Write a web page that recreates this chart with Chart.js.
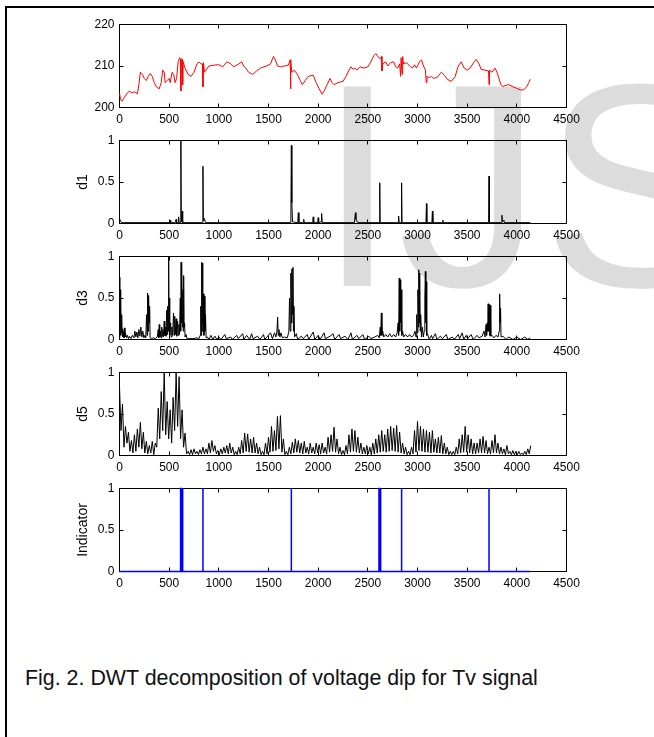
<!DOCTYPE html>
<html><head><meta charset="utf-8">
<script src="https://cdn.jsdelivr.net/npm/chart.js@4.4.1/dist/chart.umd.min.js"></script>
<style>
html,body{margin:0;padding:0;background:#fff;}
body{width:654px;height:737px;position:relative;overflow:hidden;font-family:"Liberation Sans",Arial,sans-serif;}
#wm{position:absolute;left:317px;top:39.5px;font-size:290px;line-height:1;color:#dcdcdc;white-space:nowrap;z-index:0;}
canvas{position:absolute;left:0;z-index:1;}
#bt{position:absolute;left:5px;top:6px;width:649px;height:2px;background:#000;z-index:2}
#bl{position:absolute;left:5px;top:6px;width:2px;height:731px;background:#000;z-index:2}
#cap{position:absolute;left:25px;top:668px;font-size:21.4px;line-height:1;color:#111;z-index:2;white-space:nowrap}
</style></head>
<body>
<div id="wm">IJS</div>
<div id="bt"></div><div id="bl"></div>
<canvas id="c1" width="654" height="120"></canvas>
<canvas id="c2" width="654" height="120"></canvas>
<canvas id="c3" width="654" height="120"></canvas>
<canvas id="c4" width="654" height="120"></canvas>
<canvas id="c5" width="654" height="120"></canvas>
<div id="cap">Fig. 2. DWT decomposition of voltage dip for Tv signal</div>
<script>
// ---- data ----
const xTicks = [0,500,1000,1500,2000,2500,3000,3500,4000,4500];

const voltX = [0,10,25,50,80,100,120,150,180,195,
 210,230,250,270,290,310,330,350,370,400,
 420,435,450,460,480,500,510,530,545,560,
 575,590,605,614,618,622,632,636,640,660,
 690,720,750,780,800,820,835,840,845,855,
 870,900,950,1000,1040,1080,1120,1150,1200,1230,
 1250,1270,1300,1340,1380,1420,1480,1520,1550,1570,
 1590,1620,1660,1700,1718,1722,1726,1735,1760,1790,
 1820,1840,1870,1900,1950,1980,2010,2040,2060,2090,
 2120,2140,2160,2200,2250,2280,2310,2330,2350,2370,
 2390,2420,2460,2500,2530,2560,2580,2610,2630,2638,
 2642,2650,2680,2700,2730,2760,2780,2800,2820,2830,
 2835,2845,2850,2860,2890,2920,2950,2970,2990,3020,
 3040,3060,3080,3088,3095,3120,3140,3160,3200,3240,
 3270,3300,3340,3380,3410,3440,3470,3500,3530,3570,
 3590,3620,3640,3680,3715,3720,3725,3750,3780,3800,
 3820,3840,3860,3880,3920,3960,4000,4040,4070,4100,
 4120,4135];
const voltY = [203.5,202.0,201.5,202.5,203.5,204.0,203.5,203.8,203.3,205.5,
 208.5,208.0,207.0,206.5,207.5,208.2,207.5,206.0,205.0,204.5,
 206.0,209.0,208.5,206.0,206.5,207.0,206.0,208.5,208.0,206.0,
 207.0,211.0,212.0,211.5,204.0,211.8,211.5,205.5,211.0,209.5,
 208.0,207.5,208.5,210.5,211.0,210.5,210.5,205.0,210.8,208.5,
 209.0,210.0,210.2,210.3,209.8,211.0,210.5,209.8,210.5,211.0,
 210.0,209.5,208.5,208.0,208.8,209.5,210.0,210.5,212.3,211.5,
 210.0,209.8,210.0,210.2,211.5,204.5,211.0,208.5,209.0,208.0,
 206.5,205.5,206.5,207.5,207.8,206.0,204.5,203.2,204.0,205.5,
 207.0,206.0,205.5,206.0,206.3,207.5,209.0,209.8,209.2,209.5,
 209.0,209.8,209.5,209.8,211.0,212.5,213.0,212.0,211.8,212.3,
 208.8,210.5,211.0,210.0,210.8,211.0,209.8,209.5,210.5,207.5,
 212.0,208.0,212.3,210.5,210.8,210.0,209.5,210.3,209.5,211.0,
 211.5,210.0,209.0,206.0,207.5,207.2,207.5,207.0,207.3,208.5,
 207.8,206.8,206.3,207.5,210.0,211.0,209.5,209.0,209.5,211.0,
 211.6,210.5,209.2,209.0,208.8,205.5,209.0,208.5,209.5,208.5,
 207.0,205.5,205.0,205.3,205.5,205.0,204.6,204.2,204.3,205.0,
 206.0,206.8];

const d1X = [0,10,20,500,510,515,560,570,575,590,
 595,600,614,618,622,628,632,636,836,840,
 844,855,865,1725,1730,1735,1742,1795,1800,1806,
 1850,1855,1860,1945,1950,1955,1995,2000,2005,2030,
 2035,2040,2365,2375,2380,2390,2400,2615,2620,2624,
 2805,2810,2815,2836,2840,2844,3085,3090,3094,3145,
 3150,3155,3250,3255,3260,3716,3720,3724,3845,3850,
 3855,3870,3875,4135];
const d1Y = [0.06,0.03,0.01,0.01,0.04,0.01,0.01,0.05,0.01,0.01,
 0.08,0.01,0.01,1.0,0.02,0.02,0.15,0.01,0.01,0.69,
 0.03,0.06,0.01,0.01,0.94,0.25,0.02,0.01,0.13,0.01,
 0.01,0.05,0.01,0.01,0.08,0.01,0.01,0.07,0.01,0.02,
 0.12,0.01,0.01,0.13,0.05,0.03,0.01,0.01,0.49,0.01,
 0.01,0.09,0.01,0.01,0.49,0.01,0.01,0.24,0.01,0.01,
 0.15,0.01,0.01,0.04,0.01,0.01,0.57,0.01,0.01,0.1,
 0.02,0.04,0.01,0.01];

const d3X = [0,3,6,9,12,15,18,22,26,30,
 35,40,45,50,55,60,70,80,90,100,
 115,130,145,155,165,175,185,195,205,215,
 225,235,245,255,265,272,278,283,288,293,
 298,303,308,320,340,360,380,390,395,400,
 405,412,418,425,430,437,443,450,456,462,
 468,475,480,485,490,495,499,503,508,515,
 520,528,535,544,550,556,562,570,576,585,
 590,598,604,612,616,620,624,628,633,638,
 642,646,650,655,660,670,680,700,740,780,
 800,812,818,822,827,831,836,840,845,850,
 855,860,866,872,885,900,920,940,960,980,
 1000,1022,1060,1075,1120,1138,1180,1196,1240,1252,
 1280,1310,1330,1345,1390,1412,1450,1462,1520,1540,
 1560,1575,1585,1592,1598,1605,1615,1625,1640,1660,
 1690,1705,1712,1718,1725,1731,1736,1741,1746,1751,
 1756,1762,1780,1793,1830,1848,1890,1905,1950,1966,
 2000,2018,2060,2072,2120,2150,2166,2210,2226,2270,
 2300,2330,2345,2390,2410,2450,2468,2510,2530,2570,
 2600,2615,2625,2630,2636,2642,2650,2660,2680,2700,
 2720,2740,2760,2780,2795,2805,2810,2816,2821,2826,
 2831,2836,2842,2850,2860,2880,2900,2920,2940,2960,
 2975,2985,2992,2998,3004,3009,3013,3018,3022,3027,
 3032,3040,3050,3058,3068,3074,3079,3084,3088,3093,
 3100,3118,3140,3152,3180,3196,3230,3250,3290,3306,
 3350,3370,3410,3424,3450,3466,3490,3505,3540,3560,
 3600,3620,3650,3670,3680,3690,3696,3702,3707,3711,
 3716,3722,3727,3733,3738,3750,3770,3790,3810,3822,
 3827,3832,3836,3841,3860,3890,3920,3960,4000,4040,
 4080,4110,4135];
const d3Y = [0.02,0.75,0.1,0.6,0.05,0.42,0.08,0.3,0.05,0.13,
 0.03,0.1,0.02,0.14,0.03,0.08,0.02,0.05,0.01,0.04,
 0.01,0.05,0.02,0.1,0.03,0.09,0.02,0.12,0.04,0.15,
 0.03,0.1,0.02,0.05,0.02,0.3,0.05,0.56,0.1,0.53,
 0.2,0.4,0.02,0.01,0.02,0.01,0.03,0.12,0.02,0.18,
 0.03,0.1,0.02,0.15,0.04,0.12,0.03,0.22,0.05,0.15,
 0.04,0.35,0.06,0.4,0.1,1.0,0.15,0.5,0.05,0.2,
 0.03,0.15,0.05,0.32,0.05,0.28,0.06,0.25,0.04,0.22,
 0.05,0.18,0.06,0.5,0.1,0.93,0.2,0.9,0.15,0.6,
 0.1,0.77,0.15,0.2,0.03,0.06,0.01,0.01,0.01,0.02,
 0.01,0.05,0.4,0.05,0.93,0.1,0.92,0.2,0.55,0.05,
 0.52,0.1,0.3,0.02,0.03,0.0,0.05,0.0,0.04,0.0,
 0.03,0.0,0.06,0.01,0.03,0.0,0.05,0.01,0.07,0.0,
 0.05,0.0,0.07,0.01,0.04,0.0,0.06,0.0,0.08,0.01,
 0.08,0.03,0.1,0.27,0.05,0.12,0.03,0.08,0.02,0.03,
 0.02,0.1,0.5,0.1,0.8,0.2,0.85,0.3,0.87,0.1,
 0.4,0.03,0.07,0.0,0.04,0.01,0.06,0.0,0.09,0.0,
 0.05,0.0,0.08,0.01,0.04,0.07,0.0,0.06,0.01,0.04,
 0.0,0.08,0.0,0.05,0.01,0.06,0.0,0.04,0.01,0.03,
 0.05,0.02,0.15,0.05,0.32,0.05,0.1,0.03,0.06,0.03,
 0.07,0.03,0.06,0.03,0.08,0.2,0.05,0.74,0.1,0.72,
 0.2,0.6,0.05,0.1,0.03,0.06,0.03,0.06,0.03,0.05,
 0.1,0.03,0.3,0.08,0.6,0.15,0.84,0.2,0.8,0.1,
 0.3,0.03,0.15,0.03,0.1,0.5,0.82,0.2,0.7,0.05,
 0.07,0.0,0.05,0.01,0.07,0.0,0.04,0.01,0.06,0.0,
 0.03,0.0,0.06,0.01,0.08,0.0,0.05,0.01,0.06,0.0,
 0.05,0.02,0.04,0.1,0.03,0.18,0.05,0.2,0.1,0.43,
 0.1,0.42,0.05,0.41,0.04,0.05,0.02,0.05,0.03,0.1,
 0.55,0.2,0.38,0.03,0.04,0.0,0.03,0.0,0.03,0.0,
 0.03,0.0,0.02];

const d5Step = 15; // sample spacing of the d5 series
const d5Y = [0.83,0.3,0.62,0.1,0.35,0.15,0.28,0.05,0.18,0.03,
 0.25,0.05,0.32,0.1,0.4,0.08,0.28,0.03,0.17,0.02,
 0.12,0.03,0.17,0.01,0.15,0.1,0.57,0.2,0.77,0.3,
 1.0,0.25,0.65,0.2,0.55,0.15,0.7,0.3,1.0,0.35,
 0.95,0.2,0.55,0.1,0.27,0.02,0.05,0.01,0.07,0.01,
 0.08,0.02,0.05,0.01,0.07,0.02,0.1,0.02,0.08,0.02,
 0.15,0.03,0.18,0.05,0.12,0.02,0.06,0.01,0.08,0.02,
 0.1,0.03,0.12,0.02,0.15,0.03,0.1,0.01,0.05,0.01,
 0.1,0.02,0.18,0.03,0.27,0.05,0.26,0.04,0.2,0.03,
 0.22,0.03,0.15,0.02,0.1,0.01,0.05,0.01,0.15,0.02,
 0.22,0.04,0.35,0.05,0.3,0.06,0.47,0.08,0.48,0.04,
 0.2,0.01,0.05,0.01,0.1,0.02,0.16,0.03,0.2,0.04,
 0.18,0.03,0.15,0.02,0.17,0.03,0.1,0.02,0.15,0.03,
 0.1,0.02,0.15,0.03,0.13,0.02,0.15,0.03,0.1,0.02,
 0.22,0.04,0.25,0.05,0.34,0.04,0.2,0.02,0.1,0.01,
 0.06,0.01,0.12,0.02,0.25,0.04,0.32,0.05,0.3,0.04,
 0.22,0.03,0.15,0.02,0.1,0.02,0.12,0.02,0.1,0.01,
 0.15,0.02,0.2,0.03,0.25,0.04,0.3,0.05,0.25,0.04,
 0.32,0.05,0.35,0.06,0.33,0.05,0.36,0.04,0.28,0.03,
 0.15,0.02,0.1,0.01,0.05,0.01,0.1,0.02,0.3,0.04,
 0.41,0.06,0.35,0.05,0.32,0.04,0.3,0.04,0.28,0.03,
 0.3,0.04,0.2,0.03,0.22,0.03,0.24,0.02,0.15,0.02,
 0.1,0.01,0.05,0.01,0.05,0.01,0.1,0.02,0.2,0.03,
 0.25,0.04,0.35,0.04,0.25,0.03,0.2,0.02,0.15,0.02,
 0.15,0.03,0.2,0.03,0.23,0.03,0.18,0.02,0.1,0.02,
 0.18,0.03,0.25,0.03,0.15,0.02,0.1,0.02,0.08,0.01,
 0.12,0.02,0.05,0.01,0.06,0.01,0.05,0.01,0.05,0.01,
 0.03,0.01,0.05,0.01,0.08,0.02,0.12];

const indX = [0,615,615,622,622,632,632,638,638,840,840,840,1730,1730,1730,
 2612,2612,2618,2618,2625,2625,2631,2631,2840,2840,2840,3720,3720,3720,4130];
const indY = [0,0,1,1,0,0,1,1,0,0,1,0,0,1,0,
 0,1,1,0,0,1,1,0,0,1,0,0,1,0,0];

// ---- build point lists ----
const zip = (xs, ys) => xs.map((x, i) => ({x, y: ys[i]}));
const voltPts = zip(voltX, voltY);
const d1Pts = zip(d1X, d1Y);
const d3Pts = zip(d3X, d3Y);
const d5Pts = d5Y.map((y, i) => ({x: i * d5Step, y}));
const indPts = zip(indX, indY);

const tickFont = {family: '"Liberation Sans", Arial, sans-serif', size: 12, lineHeight: 1.25};
const titleFont = {family: '"Liberation Sans", Arial, sans-serif', size: 14};

const PLOT_H = 83;

const boxPlugin = {
  id: 'matlabBox',
  beforeDatasetsDraw(chart) {
    const {ctx, chartArea: a, scales: {x, y}} = chart;
    ctx.save();
    ctx.strokeStyle = '#000';
    ctx.lineWidth = 1;
    ctx.strokeRect(a.left, a.top, a.right - a.left, a.bottom - a.top);
    const L = 4;
    ctx.beginPath();
    x.ticks.forEach(t => {
      const px = Math.round(x.getPixelForValue(t.value) - 0.5) + 0.5;
      ctx.moveTo(px, a.bottom); ctx.lineTo(px, a.bottom - L);
      ctx.moveTo(px, a.top); ctx.lineTo(px, a.top + L);
    });
    y.ticks.forEach(t => {
      const py = Math.round(y.getPixelForValue(t.value) - 0.5) + 0.5;
      ctx.moveTo(a.left, py); ctx.lineTo(a.left + L, py);
      ctx.moveTo(a.right, py); ctx.lineTo(a.right - L, py);
    });
    ctx.stroke();
    ctx.restore();
  }
};

function makeChart(id, plotTop, pts, color, lw, yMin, yMax, yStep, yTitle) {
  const cv = document.getElementById(id);
  const chart = new Chart(cv, {
    type: 'line',
    data: {datasets: [{data: pts, borderColor: color, borderWidth: lw, pointRadius: 0,
      tension: 0, fill: false, clip: false}]},
    options: {
      responsive: false, animation: false, events: [],
      layout: {padding: {left: 75, right: 87.5, top: 0, bottom: 0.5}},
      plugins: {legend: {display: false}, tooltip: {enabled: false}},
      scales: {
        x: {type: 'linear', min: 0, max: 4500,
          afterBuildTicks: s => { s.ticks = xTicks.map(v => ({value: v})); },
          ticks: {callback: v => String(v), font: tickFont, color: '#000', padding: 5,
            maxRotation: 0, autoSkip: false},
          grid: {display: false, drawTicks: false}, border: {display: false},
          afterFit: s => { s.height = 24; }},
        y: {type: 'linear', min: yMin, max: yMax,
          ticks: {stepSize: yStep, callback: v => String(v), font: tickFont, color: '#000', padding: 5},
          grid: {display: false, drawTicks: false}, border: {display: false},
          title: {display: yTitle !== '', text: yTitle, font: titleFont, color: '#000', padding: 0},
          afterFit: s => { s.width = 44.5; }}
      }
    },
    plugins: [boxPlugin]
  });
  // set the plot box height, then place the canvas so the box sits where the figure has it
  const a = chart.chartArea;
  const p = Object.assign({}, chart.config.options.layout.padding);
  p.bottom += (a.bottom - (a.top + PLOT_H));
  chart.config.options.layout.padding = p;
  chart.update('none');
  cv.style.top = (plotTop - chart.chartArea.top) + 'px';
  return chart;
}

makeChart('c1', 24.5, voltPts, '#ff0000', 1, 200, 220, 10, '');
makeChart('c2', 140.5, d1Pts, '#000000', 1, 0, 1, 0.5, 'd1');
makeChart('c3', 256.5, d3Pts, '#000000', 1, 0, 1, 0.5, 'd3');
makeChart('c4', 372.5, d5Pts, '#000000', 1, 0, 1, 0.5, 'd5');
makeChart('c5', 488.5, indPts, '#0000ff', 1.5, 0, 1, 0.5, 'Indicator');
</script>
</body></html>
